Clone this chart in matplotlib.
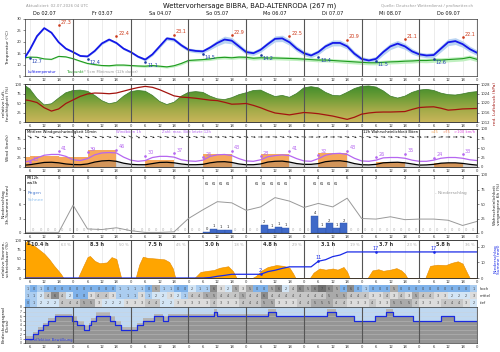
import numpy as np
import matplotlib
matplotlib.use('Agg')
import matplotlib.pyplot as plt
from matplotlib.colors import LinearSegmentedColormap
from matplotlib.patches import PathPatch

# ------------------------------------------------------------
# data (hours since Do 02.07. 00 UTC)
# ------------------------------------------------------------
t3 = [4] + list(range(6, 193, 3))

temp = [13.2, 16.5, 22.5, 26.0, 24.0, 19.8, 17.0, 15.5,
        13.8, 13.6, 16.0, 19.3, 21.0, 19.5, 17.0, 15.5,
        13.5, 12.2, 14.5, 18.0, 21.5, 21.0, 18.5, 16.5,
        16.0, 15.8, 17.5, 19.5, 21.0, 20.5, 18.0, 15.5,
        15.0, 16.5, 19.0, 21.3, 21.5, 19.8, 17.0, 15.0,
        14.0, 15.5, 18.0, 19.5, 19.5, 18.0, 14.8, 12.5,
        11.8, 12.5, 15.5, 18.0, 19.2, 18.0, 15.8, 14.5,
        14.0, 14.2, 17.0, 19.8, 20.3, 19.0, 16.8, 15.2]
temp_spread = [0.2, 0.2, 0.3, 0.3, 0.3, 0.3, 0.3, 0.3,
               0.3, 0.3, 0.4, 0.5, 0.5, 0.5, 0.5, 0.5,
               0.5, 0.6, 0.6, 0.7, 0.8, 0.8, 0.8, 0.8,
               0.8, 0.8, 1.0, 1.3, 1.5, 1.4, 1.2, 1.0,
               1.0, 1.1, 1.2, 1.3, 1.4, 1.3, 1.2, 1.1,
               1.0, 1.1, 1.2, 1.3, 1.3, 1.2, 1.1, 1.0,
               1.0, 1.1, 1.3, 1.4, 1.4, 1.3, 1.2, 1.0,
               1.0, 1.2, 1.4, 1.5, 1.5, 1.4, 1.3, 1.2]
dew = [13.0, 13.3, 13.2, 12.5, 12.3, 13.6, 13.4, 12.6,
       11.5, 10.5, 10.0, 9.6, 9.5, 9.8, 9.8, 9.6,
       9.4, 9.3, 9.6, 9.3, 9.0, 9.5, 10.5, 11.8,
       12.0, 12.2, 12.5, 13.0, 13.2, 13.0, 13.3, 13.2,
       12.8, 13.0, 12.9, 12.9, 12.8, 12.7, 12.6, 12.4,
       12.2, 12.0, 12.0, 11.8, 11.6, 11.4, 11.2, 11.0,
       10.8, 10.8, 11.0, 11.2, 11.3, 11.5, 11.6, 11.8,
       11.8, 12.0, 12.0, 12.2, 12.4, 12.6, 13.2, 12.3]
dew_spread = [0.2, 0.2, 0.2, 0.2, 0.2, 0.2, 0.2, 0.3,
              0.3, 0.3, 0.3, 0.3, 0.4, 0.4, 0.4, 0.4,
              0.4, 0.5, 0.5, 0.5, 0.5, 0.5, 0.6, 0.6,
              0.6, 0.6, 0.7, 0.7, 0.7, 0.7, 0.7, 0.8,
              0.8, 0.8, 0.8, 0.8, 0.8, 0.8, 0.8, 0.8,
              0.8, 0.8, 0.8, 0.8, 0.8, 0.9, 0.9, 0.9,
              0.9, 0.9, 0.9, 0.9, 0.9, 0.9, 0.9, 0.9,
              1.0, 1.0, 1.0, 1.0, 1.0, 1.0, 1.0, 1.0]

days = ['Do 02.07', 'Fr 03.07', 'Sa 04.07', 'So 05.07',
        'Mo 06.07', 'Di 07.07', 'Mi 08.07', 'Do 09.07']
tmax = [27.3, 22.4, 23.1, 22.9, 22.5, 20.9, 21.1, 22.1]
tmin = [12.7, 12.4, 11.1, 14.5, 14.2, 13.4, 11.5, 12.6]

hum = [96, 87, 62, 45, 48, 63, 77, 83,
       84, 81, 70, 56, 48, 52, 68, 80,
       83, 81, 70, 54, 46, 52, 68, 78,
       80, 78, 68, 61, 59, 64, 72, 77,
       83, 84, 75, 67, 70, 65, 75, 90,
       93, 90, 78, 70, 69, 78, 88, 94,
       95, 92, 82, 68, 63, 68, 78, 84,
       86, 83, 76, 72, 71, 74, 78, 80]
pres = [1021.3, 1021.0, 1020.2, 1018.0, 1016.6, 1017.5, 1019.8, 1021.3,
        1022.8, 1023.8, 1024.2, 1024.1, 1023.9, 1024.2, 1025.0, 1025.8,
        1026.5, 1027.0, 1026.6, 1025.6, 1024.3, 1023.0, 1022.5, 1022.3,
        1022.0, 1021.6, 1021.2, 1021.0, 1020.3, 1019.5, 1019.6, 1019.8,
        1019.0, 1018.0, 1016.8, 1015.8, 1015.4, 1015.0, 1015.5, 1016.0,
        1015.8, 1015.5, 1015.0, 1014.5, 1013.8, 1013.1, 1014.0, 1015.3,
        1015.8, 1016.1, 1016.2, 1016.2, 1016.3, 1016.4, 1017.3, 1018.1,
        1018.3, 1018.4, 1017.8, 1017.0, 1017.2, 1017.5, 1017.6, 1017.7]

wind = [5, 6, 9, 12, 12.5, 11, 8, 6.5,
        6, 8, 13, 16, 17, 15, 10, 7,
        6, 6, 9, 12, 12.5, 11, 8, 6,
        6, 7, 11, 13.5, 14, 12, 8, 6,
        6, 8, 13, 15, 15.5, 13, 9, 7,
        7, 9, 14, 16, 16.5, 14, 9, 6,
        5.5, 7, 11, 12, 12.5, 11, 8, 5,
        5.5, 7, 10, 11, 11, 9.5, 7, 5]
gust = [13, 16, 24, 31, 33, 33, 28, 19,
        17, 22, 32, 37, 38, 37, 26, 18,
        15, 17, 25, 28, 28, 26, 19, 16,
        15, 18, 28, 32, 33, 30, 22, 16,
        15, 19, 27, 30, 32, 30, 22, 16,
        15, 22, 31, 35, 36, 33, 23, 16,
        15, 18, 24, 25, 25, 23, 18, 15,
        15, 18, 23, 25, 25, 23, 19, 17]
wind_dir = [300, 295, 290, 290, 285, 290,
            295, 300, 295, 290, 290, 285, 290, 295,
            300, 300, 295, 290, 285, 285, 290, 295,
            290, 285, 280, 275, 275, 280, 285, 285,
            280, 275, 270, 270, 275, 280, 280, 280,
            275, 270, 265, 265, 270, 275, 280, 285,
            290, 285, 280, 275, 275, 280, 280, 280,
            275, 270, 265, 265, 270, 270, 275, 280]
gmax_t = [6, 18, 30, 42, 54, 66, 78, 90, 102, 114, 126, 138, 150, 162, 174, 186]
gmax = [13, 41, 39, 46, 30, 37, 26, 43, 28, 41, 32, 43, 26, 35, 24, 33]
gprob_end = [6, 18, 30, 42, 54, 66, 78, 90, 102, 114, 126, 138, 150, 162, 174, 186, 198]
gprob = [25, 30, 25, 46, 0, 18, 0, 34, 0, 34, 0, 37, 0, 14, 0, 10, 0]

p_start = [78, 81, 84, 87, 102, 105, 108, 111, 123, 126, 129, 132, 135]
p_amt = [0.3, 0.8, 0.6, 0.7, 1.7, 0.9, 1.2, 1.0, 3.6, 1.0, 2.0, 1.0, 2.0]
ww_t = [79.5, 82.5, 85.5, 88.5, 100.5, 103.5, 106.5, 109.5, 112.5,
        124.5, 127.5, 130.5, 133.5]
rr12_t = [18, 30, 42, 54, 66, 78, 90, 102, 114, 126, 138, 150, 162, 174, 186]
rr12 = [0, 0, 0, 0, 0, 1, 3, 2, 5, 4, 6, 2, 2, 1, 2]
prob_t = [4, 6, 12, 18, 24, 30, 36, 42, 48, 54, 60, 66, 72, 78, 84, 90, 96,
          102, 108, 114, 120, 126, 132, 138, 144, 150, 156, 162, 168, 174,
          180, 186, 192]
prob = [1, 1, 1, 1, 48, 7, 6, 9, 4, 1, 1, 2, 25, 40, 54, 52, 39,
        45, 61, 55, 44, 51, 45, 60, 25, 24, 28, 23, 24, 24,
        22, 13, 20]

sun_t = [4, 5, 6, 8, 10, 12, 14, 16, 18, 19, 20,
         26, 28, 30, 31, 33, 35, 38, 40, 42, 43, 44,
         50, 51.5, 53, 55, 59, 62, 64, 65.5, 66.5,
         74.5, 77, 80, 82.5, 85, 88.5, 90.5, 92,
         98.5, 100, 102.5, 105, 108.5, 111.5, 114, 115.5, 116.5,
         122.5, 124, 126.5, 129, 132, 134, 136.5, 138, 139,
         146.5, 148.5, 151, 153, 156, 158.5, 160.5, 162, 163,
         170.5, 172.5, 175.5, 179, 181.5, 184, 186, 188, 189, 192]
sun_v = [92, 98, 90, 84, 74, 64, 50, 33, 18, 10, 0,
         0, 28, 55, 58, 45, 39, 41, 55, 50, 25, 0,
         0, 35, 56, 53, 51, 49, 42, 25, 0,
         0, 16, 19, 21, 27, 31, 18, 0,
         0, 5, 20, 29, 34, 32, 27, 12, 0,
         0, 14, 25, 22, 25, 22, 29, 16, 0,
         0, 20, 23, 19, 22, 26, 20, 11, 0,
         0, 32, 35, 34, 40, 44, 38, 12, 0, 0]
sun_hours = ['10.4 h', '8.3 h', '7.5 h', '3.0 h', '4.8 h', '3.1 h', '3.7 h', '5.8 h']
sun_pct = ['63 %', '50 %', '45 %', '18 %', '29 %', '19 %', '23 %', '36 %']

# cloud layers, 3h cells from 03 UTC on
cl_high = [1, 0, 1, 0, 0, 0, 0, 0, 0, 0, 0, 0, 0, 1, 1, 1, 1, 0, 5, 1, 1, 0, 0,
           2, 1, 1, 6, 3, 2, 5, 3, 5, 0, 0, 5, 6, 2, 4, 6, 5, 6, 7, 6, 5, 0, 6, 0,
           1, 0, 0, 0, 5, 0, 0, 0, 0, 0, 0, 0, 0, 0, 0, 1]
cl_mid = [1, 1, 2, 4, 6, 4, 2, 0, 0, 3, 4, 4, 3, 1, 1, 1, 3, 1, 2, 2, 3, 2, 1,
          4, 4, 5, 5, 4, 4, 4, 5, 4, 4, 6, 4, 4, 4, 4, 4, 4, 4, 4, 5, 5, 5, 4, 4,
          4, 3, 3, 4, 3, 4, 3, 5, 4, 4, 3, 3, 2, 2, 2, 3]
cl_low = [0, 1, 2, 2, 2, 4, 4, 4, 5, 5, 3, 2, 2, 2, 3, 3, 3, 4, 4, 2, 2, 3, 3,
          3, 3, 3, 4, 3, 3, 3, 4, 4, 4, 5, 5, 3, 3, 3, 4, 4, 5, 5, 5, 4, 4, 3, 3,
          3, 4, 3, 3, 5, 5, 5, 4, 3, 3, 3, 4, 4, 4, 3, 2]
eff_t = [4, 7.5, 9.5, 11.5, 13.5, 16.5, 23.5, 25.5, 28.5, 30.5, 31.5, 33.5,
         39.5, 41.5, 44, 50.5, 53, 57.5, 61.5, 63.5, 82.5, 84, 105, 108.5,
         129.5, 133.5, 141, 149.5, 154, 157, 165.5, 177, 182.5, 192]
eff_v = [1, 2, 3, 4, 5, 6, 5, 4, 3, 4, 5, 6,
         5, 4, 3, 4, 5, 6, 5, 6, 7, 6, 7, 6,
         7, 6, 5, 6, 7, 6, 5, 6, 5, 5]
tot_v = [1.5, 2.5, 3.5, 4.5, 5.5, 6.5, 6, 5, 4, 4.5, 5.5, 7,
         6, 5, 3.5, 4.5, 5.5, 6.5, 6, 6.5, 7.5, 6.5, 7.5, 6,
         7.5, 6, 5, 6, 7.5, 6, 5, 6, 5, 5]

# ------------------------------------------------------------
# style
# ------------------------------------------------------------
plt.rcParams['font.family'] = 'DejaVu Sans'
plt.rcParams['axes.linewidth'] = 0.5
plt.rcParams['axes.edgecolor'] = '#333333'
fs_tick = 2.7
fs_lab = 3.2
fs_txt = 2.7
fs_val = 3.5

BLUE = '#1418e8'
GREEN = '#1f9a1f'
RED = '#cc3a1a'
PURPLE = '#b566f0'
xt = list(range(6, 193, 6))
xl = ['0' if h % 24 == 0 else str(h % 24) for h in xt]

fig = plt.figure(figsize=(5, 3.52), dpi=100)


def panel(top, bot):
    return fig.add_axes([0.05, 1 - bot / 352, 0.904, (bot - top) / 352])


def timeaxis(ax, labels=True, light=True):
    ax.set_xlim(4, 192)
    ax.set_xticks(xt)
    ax.set_xticklabels(xl if labels else [])
    ax.tick_params(axis='x', length=0, pad=1.2, labelsize=fs_tick, colors='#333333')
    ax.tick_params(axis='y', length=1.5, width=0.4, pad=1, labelsize=fs_tick, colors='#333333')
    for h in xt:
        if h % 24 == 0:
            ax.axvline(h, color='#555555', lw=0.8, zorder=5)
        elif light:
            ax.axvline(h, color='#dddddd', lw=0.4, zorder=0.5)


def leftlabel(ax, txt, color='#222222'):
    ax.set_ylabel(txt, fontsize=fs_lab, color=color, linespacing=1.0)
    ax.yaxis.set_label_coords(-0.033, 0.5)


def rightlabel(ax, txt, color='#222222'):
    ax.set_ylabel(txt, fontsize=fs_lab, color=color, linespacing=1.0)
    ax.yaxis.set_label_coords(1.036, 0.5)


fig.text(0.5, 0.984, 'Wettervorhersage BIBRA, BAD-ALTENRODA (267 m)',
         ha='center', va='center', fontsize=4.9, color='#111111')
fig.text(0.052, 0.984, 'Aktualisiert: 02.07.2026 04 UTC', ha='left', va='center',
         fontsize=2.8, color='#999999')
fig.text(0.946, 0.982, 'Quelle: Deutscher Wetterdienst / profiwetter.ch', ha='right',
         va='center', fontsize=2.8, color='#999999')

# ---------------- temperature ----------------
ax1 = panel(19, 76)
t_arr = np.array(t3, float)
ax1.fill_between(t_arr, np.array(dew) - dew_spread, np.array(dew) + dew_spread,
                 color='#bff0bf', lw=0, zorder=1)
ax1.fill_between(t_arr, np.array(temp) - temp_spread, np.array(temp) + temp_spread,
                 color='#b9d3f2', lw=0, zorder=1)
ax1.plot(t3, dew, color=GREEN, lw=0.8, zorder=3)
ax1.plot(t3, temp, color=BLUE, lw=1.3, zorder=3)
for k in range(8):
    ax1.plot(18 + 24 * k, tmax[k], 's', ms=0.8, color=RED, zorder=4)
    ax1.text(18.8 + 24 * k, tmax[k] + 0.2, f'{tmax[k]:.1f}', color=RED,
             fontsize=fs_val, ha='left', va='bottom')
    ax1.plot(6 + 24 * k, tmin[k], 's', ms=0.8, color='#1a3aa0', zorder=4)
    ax1.text(6.8 + 24 * k, tmin[k] - 0.4, f'{tmin[k]:.1f}', color='#2040b0',
             fontsize=fs_val, ha='left', va='top')
    ax1.text(12 + 24 * k, 32.3, days[k], ha='center', va='center', fontsize=3.6,
             color='#111111')
ax1.text(5, 6.6, 'Lufttemperatur', color=BLUE, fontsize=fs_txt, va='center')
ax1.text(21.3, 6.6, 'Taupunkt', color=GREEN, fontsize=fs_txt, va='center')
ax1.text(28.5, 6.6, '* 5cm Minimum (12h davor)', color='#999999', fontsize=fs_txt,
         va='center')
ax1.set_ylim(5, 30)
ax1.set_yticks([5, 10, 15, 20, 25, 30])
timeaxis(ax1)
leftlabel(ax1, 'Temperatur (°C)')

# ---------------- humidity / pressure ----------------
ax2 = panel(84, 122)
poly = ax2.fill_between(t3, 0, hum, facecolor='none', lw=0)
grad = np.linspace(0, 1, 200).reshape(-1, 1)
cm_h = LinearSegmentedColormap.from_list('hum', ['#c9b65a', '#a3aa48', '#6a9c36', '#3d8a2a'])
im = ax2.imshow(grad, extent=[4, 192, 0, 100], origin='lower', aspect='auto',
                cmap=cm_h, zorder=1)
im.set_clip_path(PathPatch(poly.get_paths()[0], transform=ax2.transData, facecolor='none'))
ax2.plot(t3, hum, color='#3a7a28', lw=0.5, zorder=2)
ax2.set_ylim(0, 100)
ax2.set_yticks([0, 25, 50, 75, 100])
timeaxis(ax2)
leftlabel(ax2, 'relative Luft-\nfeuchtigkeit (%)')
ax2b = ax2.twinx()
ax2b.plot(t3, pres, color='#a3140f', lw=0.9)
ax2b.set_ylim(1012, 1028)
ax2b.set_yticks([1012, 1016, 1020, 1024, 1028])
ax2b.tick_params(axis='y', length=1.5, width=0.4, pad=1, labelsize=fs_tick, colors='#333333')
rightlabel(ax2b, 'red. Luftdruck (hPa)', '#a3140f')

# ---------------- wind ----------------
ax3 = panel(129, 167)
ax3.bar([e - 12 for e in gprob_end], gprob, width=12, align='edge', color='#f6a85c',
        lw=0, zorder=1)
ax3.fill_between(t3, 0, wind, color='#555555', alpha=0.22, lw=0, zorder=2)
ax3.plot(t3, gust, color=PURPLE, lw=0.9, zorder=3)
ax3.plot(t3, wind, color='black', lw=0.9, zorder=3)
ax3.plot(gmax_t, gmax, 'o', ms=0.9, color=PURPLE, zorder=4)
for t, g in zip(gmax_t, gmax):
    ax3.text(t + 1, g + 1, str(g), color=PURPLE, fontsize=fs_val, ha='left', va='bottom')
arrow_t = t3[1:-1]
rad = np.deg2rad(wind_dir)
ax3.quiver(arrow_t, [79] * len(arrow_t), -np.sin(rad), -np.cos(rad), angles='uv',
           scale_units='inches', scale=21, pivot='middle', width=0.0013,
           headwidth=3.5, headlength=3.2, headaxislength=2.8, color='#111111', zorder=4)
ax3.text(4.7, 92, 'Mittlere Windgeschwindigkeit 10min', fontsize=fs_txt, va='center')
ax3.text(42, 92, 'Windböen 1h', fontsize=fs_txt, color=PURPLE, va='center')
ax3.text(61, 92, 'Zahl: max. Böe letzte 12h', fontsize=fs_txt, color=PURPLE, va='center')
ax3.text(144.6, 92, '12h Wahrscheinlichkeit Böen', fontsize=fs_txt, va='center')
ax3.text(172.5, 92, '>45', fontsize=fs_txt, color='#f0a050', va='center')
ax3.text(177.6, 92, '>75', fontsize=fs_txt, color='#f07a50', va='center')
ax3.text(182.4, 92, '>100 km/h', fontsize=fs_txt, color='#e050e0', va='center')
ax3.set_ylim(0, 100)
ax3.set_yticks([0, 25, 50, 75])
timeaxis(ax3)
leftlabel(ax3, 'Wind (km/h)')
ax3b = ax3.twinx()
ax3b.set_ylim(0, 100)
ax3b.set_yticks([0, 25, 50, 75, 100])
ax3b.tick_params(axis='y', length=1.5, width=0.4, pad=1, labelsize=fs_tick, colors='#333333')

# ---------------- precipitation ----------------
ax4 = panel(175, 233)
ax4.bar(p_start, p_amt, width=3, align='edge', color='#3f69c8', edgecolor='#2c52aa',
        lw=0.3, zorder=2)
for s, a in zip(p_start, p_amt):
    ax4.text(s + 1.5, a + 0.15, f'{round(a)}', ha='center', va='bottom',
             fontsize=fs_txt, color='#222222')
for s in range(6, 192, 3):
    if s not in p_start:
        ax4.text(s + 1.5, 0.15, '0', ha='center', va='bottom', fontsize=fs_txt,
                 color='#aaaaaa')
for t, r in zip(rr12_t, rr12):
    ax4.text(t, 11.3, str(r), ha='center', va='center', fontsize=fs_txt, color='#222222')
for t in ww_t:
    ax4.text(t, 10.1, '61', ha='center', va='center', fontsize=2.4, color='#222222')
ax4.text(4.6, 11.3, 'RR12h', fontsize=fs_txt, va='center')
ax4.text(4.6, 10.4, 'ww3h', fontsize=fs_txt, va='center')
ax4.text(5, 8.2, 'Regen', fontsize=3.2, color='#4a7cd0', va='center')
ax4.text(5, 6.9, 'Schnee', fontsize=3.2, color='#8ec0f0', va='center')
ax4.text(174.5, 8.2, '- Niederschlag', fontsize=3.2, color='#999999', va='center')
ax4.set_ylim(0, 12)
ax4.set_yticks([0, 3, 6, 9])
timeaxis(ax4)
leftlabel(ax4, 'Niederschlag\n3h-Summen (mm)')
ax4b = ax4.twinx()
ax4b.plot(prob_t, prob, color='#999999', lw=0.7)
ax4b.set_ylim(0, 100)
ax4b.set_yticks([0, 25, 50, 75, 100])
ax4b.tick_params(axis='y', length=1.5, width=0.4, pad=1, labelsize=fs_tick, colors='#333333')
rightlabel(ax4b, 'Wahrscheinlichkeit\nvergangene 6h (%)')

# ---------------- sunshine ----------------
ax5 = panel(240, 278)
ax5.fill_between(sun_t, 0, sun_v, facecolor='#ffa500', edgecolor='#e48a00', lw=0.4, zorder=2)
for k in range(8):
    ax5.text(24 * k + 10, 87, sun_hours[k], ha='center', va='center', fontsize=3.6,
             color='#333333', fontweight='bold')
    ax5.text(24 * k + 23, 87, sun_pct[k], ha='right', va='center', fontsize=fs_txt,
             color='#aaaaaa')
ax5.text(4.5, 90, 'Σ', fontsize=4, color='#222222', va='center', fontweight='bold')
ax5.set_ylim(0, 100)
ax5.set_yticks([0, 25, 50, 75, 100])
timeaxis(ax5)
leftlabel(ax5, 'relative Sonnen-\nscheindauer (%)')
ax5b = ax5.twinx()
cells = list(range(3, 192, 3))
amount = [p_amt[p_start.index(c)] if c in p_start else 0 for c in cells]
cum = np.concatenate([[0], np.cumsum(amount)])
edges = np.array(cells + [192], float)
ax5b.plot(edges, cum, color='#1a2ae8', lw=0.9)
for d in range(8):
    tt = 6 + 24 * d
    val = np.interp(tt, edges, cum)
    if val > 0.5:
        ax5b.plot(tt, val, 'o', ms=0.9, color='#1a2ae8')
        ax5b.text(tt, val + 0.6, f'{val:.0f}', ha='center', va='bottom', fontsize=fs_val,
                  color='#1a2ae8')
ax5b.set_ylim(0, 24.5)
ax5b.set_yticks([0, 10, 20])
ax5b.tick_params(axis='y', length=1.5, width=0.4, pad=1, labelsize=fs_tick, colors='#333333')
rightlabel(ax5b, 'Niederschlag\nSumme (mm)', '#1a2ae8')

# ---------------- cloud layer table ----------------
ax6 = panel(285, 306.5)
okta_col = ['#7fb2ea', '#abcdf0', '#d3e5f5', '#dcdcdc', '#c6c6c6', '#aaaaaa',
            '#8c8c8c', '#707070', '#575757']
for row, vals in enumerate([cl_low, cl_mid, cl_high]):
    ax6.bar(cells, [1] * len(cells), width=3, bottom=row, align='edge',
            color=[okta_col[v] for v in vals], lw=0)
    for c, v in zip(cells, vals):
        ax6.text(max(c + 1.5, 5), row + 0.5, str(v), ha='center', va='center',
                 fontsize=2.4, color='#444444')
for row, name in enumerate(['tief', 'mittel', 'hoch']):
    ax6.text(1.006, (row + 0.5) / 3, name, transform=ax6.transAxes, fontsize=fs_txt,
             va='center', ha='left', color='#333333')
ax6.set_xlim(4, 192)
ax6.set_ylim(0, 3)
ax6.set_xticks([])
ax6.set_yticks([])
for s in ax6.spines.values():
    s.set_visible(False)

# ---------------- cloud cover ----------------
ax7 = panel(307, 343)
ax7.set_facecolor('#bfd8f1')
ax7.fill_between(eff_t, 0, tot_v, step='post', color='#b4b4b4', lw=0, zorder=1)
ax7.fill_between(eff_t, 0, eff_v, step='post', color='#959595', lw=0, zorder=1.5)
for o in range(1, 8):
    ax7.axhline(o, color='#d0d0d0', lw=0.4, alpha=0.6, zorder=2)
ax7.step(eff_t, eff_v, where='post', color='#1a2ae0', lw=0.9, zorder=4)
ax7.text(5.5, 0.6, '— effektive Bewölkung', fontsize=fs_txt, color='#2a3adf', va='center')
ax7.set_ylim(0, 8)
ax7.set_yticks(range(9))
timeaxis(ax7, light=False)
ax7.tick_params(axis='y', labelsize=2.2)
leftlabel(ax7, 'Bedeckungsgrad\n(Octa)')

fig.savefig('out.png', dpi=100)
